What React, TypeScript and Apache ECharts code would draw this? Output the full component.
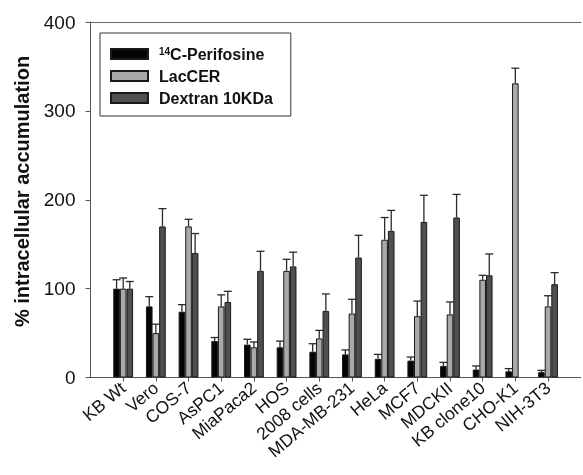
import React, { useEffect, useRef } from "react";
import * as echarts from "echarts";

const categories = ["KB Wt", "Vero", "COS-7", "AsPC1", "MiaPaca2", "HOS", "2008 cells", "MDA-MB-231", "HeLa", "MCF7", "MDCKII", "KB clone10", "CHO-K1", "NIH-3T3"];
const perifosine = [100, 80, 74, 41, 37, 34, 29, 26, 21, 19, 13, 9, 7, 6];
const perifosineErr = [10, 11, 8, 4, 6, 7, 9, 5, 5, 4, 4, 4, 3, 2];
const lacCER = [100, 50, 170, 80, 34, 120, 44, 72, 155, 69, 71, 110, 331, 80];
const lacCERErr = [12, 10, 8, 13, 6, 13, 9, 16, 25, 17, 14, 5, 17, 12];
const dextran: (number | null)[] = [100, 170, 140, 85, 120, 125, 75, 135, 165, 175, 180, 115, null, 105];
const dextranErr: (number | null)[] = [8, 20, 22, 12, 22, 16, 19, 25, 23, 30, 26, 24, null, 13];
const yTicks = [0, 100, 200, 300, 400];

const seriesNames = ["14C-Perifosine", "LacCER", "Dextran 10KDa"];
const colors = ["#050505", "#a9a9a9", "#4f4f4f"];

export default function App() {
  const ref = useRef<HTMLDivElement>(null);
  useEffect(() => {
    if (!ref.current) return;
    const chart = echarts.init(ref.current, null, { renderer: "svg" });
    const axisCats = ["", ...categories, ""];
    const BW = 6.6;
    const values = [perifosine, lacCER, dextran];
    const errs = [perifosineErr, lacCERErr, dextranErr];
    const barSeries = values.map((vals, s) => ({
      type: "bar",
      name: seriesNames[s],
      data: ["-", ...vals.map((v) => (v == null ? "-" : v)), "-"],
      barWidth: BW,
      barGap: "0%",
      itemStyle: { color: colors[s], borderColor: "#1a1a1a", borderWidth: 1 },
      z: 2,
    }));
    const errSeries = values.map((vals, s) => ({
      type: "custom",
      data: vals
        .map((v, i) => (v == null || errs[s][i] == null ? null : [i + 1, v, errs[s][i]]))
        .filter((d) => d !== null),
      encode: { x: 0, y: 1 },
      z: 3,
      silent: true,
      renderItem: (params: any, api: any) => {
        const x = api.value(0);
        const v = api.value(1);
        const e = api.value(2);
        const p0 = api.coord([x, v]);
        const p1 = api.coord([x, v + e]);
        const cx = p0[0] + (s - 1) * BW;
        const st = { stroke: "#2a2a2a", lineWidth: 1.3 };
        return {
          type: "group",
          children: [
            { type: "line", shape: { x1: cx, y1: p0[1], x2: cx, y2: p1[1] }, style: st },
            { type: "line", shape: { x1: cx - 4, y1: p1[1], x2: cx + 4, y2: p1[1] }, style: st },
          ],
        };
      },
    }));
    const font = "Liberation Sans, Arial, sans-serif";
    chart.setOption({
      animation: false,
      grid: {
        left: 90.5,
        top: 22,
        width: 495.75,
        height: 355.5,
        show: false,
      },
      legend: {
        data: seriesNames,
        orient: "vertical",
        left: 100,
        top: 33,
        padding: [13, 18, 10, 10],
        itemGap: 6,
        itemWidth: 37,
        itemHeight: 10,
        borderColor: "#333",
        borderWidth: 1,
        icon: "rect",
        selectedMode: false,
        formatter: (name: string) =>
          name === "14C-Perifosine" ? "{sup|14}{b|C-Perifosine}" : "{b0|" + name + "}",
        textStyle: {
          fontFamily: font,
          fontWeight: "bold",
          fontSize: 16,
          color: "#111",
          rich: {
            sup: { fontSize: 10, fontWeight: "bold", color: "#111", verticalAlign: "top", lineHeight: 16, padding: [0, 0, 0, 6], fontFamily: font },
            b: { fontSize: 16, fontWeight: "bold", color: "#111", lineHeight: 16, fontFamily: font },
            b0: { fontSize: 16, fontWeight: "bold", color: "#111", lineHeight: 16, padding: [0, 0, 0, 6], fontFamily: font },
          },
        },
      },
      xAxis: [
        {
          type: "category",
          data: axisCats,
          boundaryGap: false,
          axisLine: { lineStyle: { color: "#555", width: 1 } },
          axisTick: {
            length: 4,
            lineStyle: { color: "#555" },
            interval: (i: number) => i > 0 && i < axisCats.length - 1,
          },
          axisLabel: {
            interval: 0,
            rotate: 40,
            margin: 8,
            fontSize: 17.5,
            color: "#111",
            fontFamily: font,
          },
          splitLine: { show: false },
        },
        {
          type: "category",
          position: "top",
          data: axisCats,
          boundaryGap: false,
          axisLine: { show: true, lineStyle: { color: "#666", width: 1 } },
          axisTick: { show: false },
          axisLabel: { show: false },
          splitLine: { show: false },
        },
      ],
      yAxis: {
        type: "value",
        min: yTicks[0],
        max: yTicks[yTicks.length - 1],
        interval: 100,
        axisLine: { show: true, lineStyle: { color: "#555", width: 1 } },
        axisTick: { show: true, length: 5, lineStyle: { color: "#555" } },
        axisLabel: { fontSize: 19, color: "#111", margin: 15, fontFamily: font },
        splitLine: { show: false },
      },
      graphic: [
        {
          type: "text",
          x: 22,
          y: 191.5,
          rotation: Math.PI / 2,
          style: {
            text: "% intracellular accumulation",
            fontSize: 20,
            fontWeight: "bold",
            fontFamily: font,
            fill: "#111",
            align: "center",
            verticalAlign: "middle",
          },
        },
      ],
      series: [...barSeries, ...errSeries],
    });
    return () => chart.dispose();
  }, []);
  return <div ref={ref} style={{ position: "fixed", left: 0, top: 0, width: 583, height: 475 }} />;
}
